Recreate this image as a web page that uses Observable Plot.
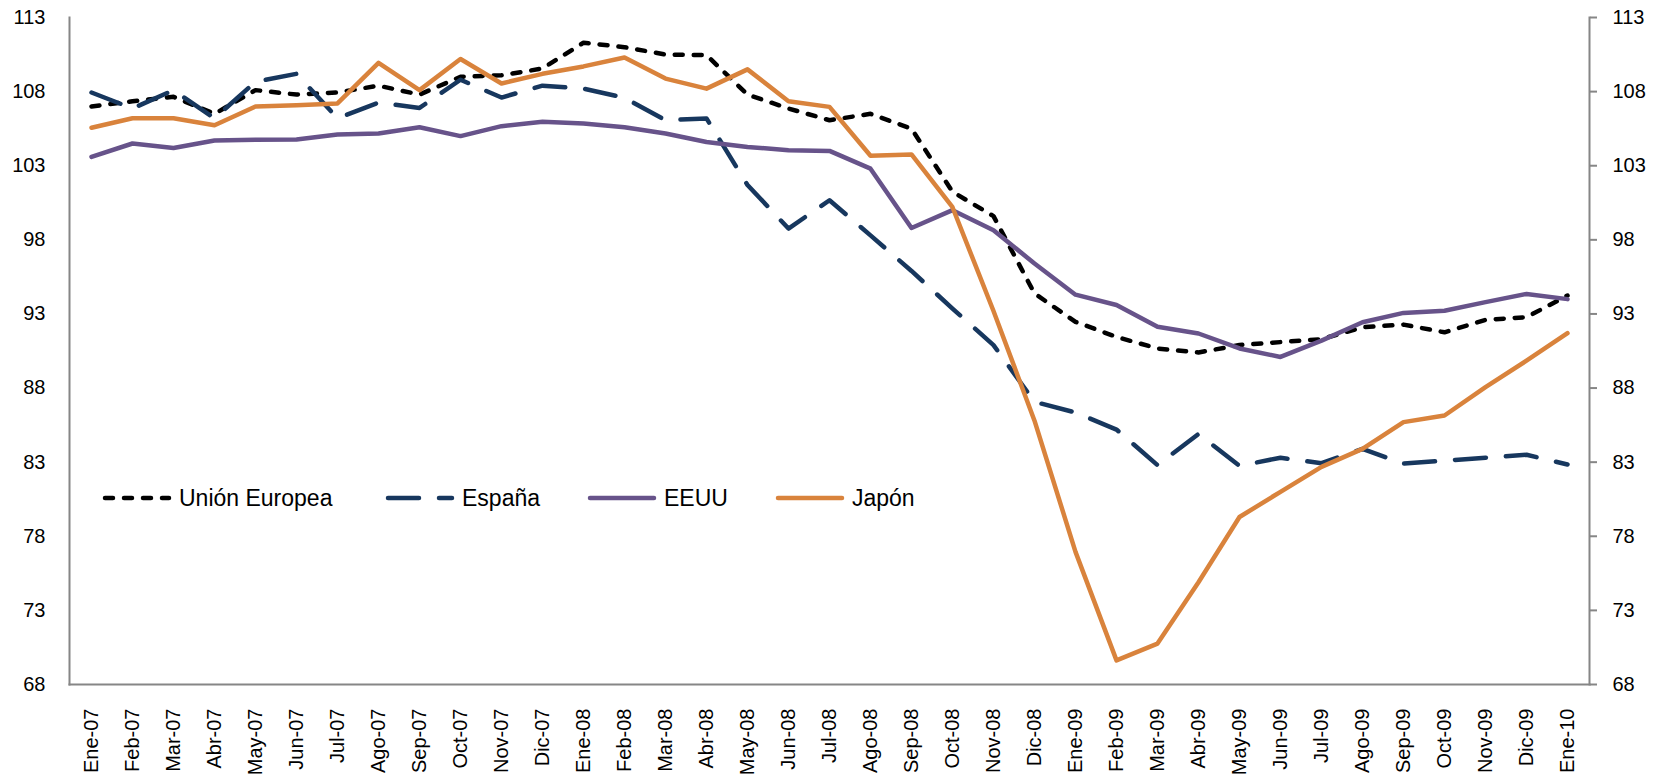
<!DOCTYPE html>
<html>
<head>
<meta charset="utf-8">
<script src="https://cdn.jsdelivr.net/npm/d3@7"></script>
<script src="https://cdn.jsdelivr.net/npm/@observablehq/plot@0.6"></script>
<style>
  html, body { margin: 0; padding: 0; background: #ffffff; }
  #chart { position: relative; width: 1663px; height: 778px; }
</style>
</head>
<body>
<div id="chart"></div>
<script>
const months = ["Ene-07","Feb-07","Mar-07","Abr-07","May-07","Jun-07","Jul-07","Ago-07","Sep-07","Oct-07","Nov-07","Dic-07",
  "Ene-08","Feb-08","Mar-08","Abr-08","May-08","Jun-08","Jul-08","Ago-08","Sep-08","Oct-08","Nov-08","Dic-08",
  "Ene-09","Feb-09","Mar-09","Abr-09","May-09","Jun-09","Jul-09","Ago-09","Sep-09","Oct-09","Nov-09","Dic-09","Ene-10"];

const unionEuropea = [107.0,107.35,107.65,106.5,108.1,107.8,107.94,108.4,107.8,109.0,109.1,109.56,
  111.3,111.0,110.5,110.46,107.8,106.86,106.07,106.5,105.5,101.24,99.6,94.38,
  92.47,91.45,90.67,90.4,90.9,91.1,91.3,92.1,92.28,91.76,92.6,92.78,94.24];

const espana = [107.94,106.86,108.1,106.2,108.66,109.2,106.2,107.26,106.9,108.8,107.6,108.4,
  108.2,107.58,106.07,106.19,101.7,98.76,100.67,98.3,95.9,93.36,90.9,87.07,
  86.35,85.2,82.8,84.9,82.75,83.3,82.93,83.9,82.9,83.1,83.3,83.5,82.84];

const eeuu = [103.6,104.5,104.2,104.7,104.75,104.77,105.1,105.17,105.6,105.0,105.67,105.96,
  105.85,105.6,105.17,104.6,104.27,104.05,104.0,102.8,98.8,100.0,98.65,96.4,
  94.3,93.6,92.13,91.68,90.67,90.1,91.2,92.44,93.07,93.22,93.8,94.35,94.0];

const japon = [105.56,106.2,106.2,105.73,107.0,107.08,107.2,109.94,108.1,110.2,108.55,109.2,
  109.7,110.3,108.88,108.2,109.5,107.35,106.97,103.67,103.76,100.2,93.2,85.8,
  76.95,69.63,70.76,74.9,79.3,81.0,82.68,83.9,85.7,86.15,88.06,89.85,91.7];

const yTicks = [68,73,78,83,88,93,98,103,108,113];
const seriesNames = ["Unión Europea","España","EEUU","Japón"];
const seriesColors = ["#000000","#17375E","#67538A","#D9833C"];
const seriesDash = ["8,11","31,20",null,null];
const seriesValues = [unionEuropea, espana, eeuu, japon];

const rows = [];
seriesValues.forEach((vals, s) => vals.forEach((v, i) => rows.push({serie: seriesNames[s], mes: months[i], valor: v})));

const axisColor = "#868686";
const W = 1663, H = 778;

const lineMarks = seriesNames.map((name, s) => Plot.line(rows.filter(d => d.serie === name), {
  x: "mes", y: "valor",
  stroke: seriesColors[s],
  strokeWidth: 4.5,
  strokeDasharray: seriesDash[s] || undefined,
  strokeLinecap: "round",
  strokeLinejoin: "round"
}));

const plot = Plot.plot({
  width: W,
  height: H,
  marginTop: 17,
  marginBottom: 94,
  marginLeft: 69,
  marginRight: 74,
  style: {fontFamily: "'Liberation Sans', Arial, sans-serif", background: "#ffffff", color: "#000000"},
  x: {type: "point", domain: months, padding: 0.5, label: null},
  y: {domain: [68, 113], label: null},
  marks: [
    Plot.frame({anchor: "left", stroke: axisColor, strokeWidth: 2}),
    Plot.frame({anchor: "right", stroke: axisColor, strokeWidth: 2}),
    Plot.frame({anchor: "bottom", stroke: axisColor, strokeWidth: 2}),
    Plot.axisY(yTicks, {anchor: "left", tickSize: 0, tickPadding: 24, fontSize: 20, fill: "#000", label: null}),
    Plot.axisY(yTicks, {anchor: "right", tickSize: 7, tickPadding: 16, fontSize: 20, stroke: axisColor, strokeWidth: 2, fill: "#000", label: null}),
    Plot.axisX(months, {tickSize: 0, tickRotate: -90, tickPadding: 24, fontSize: 20, fill: "#000", label: null}),
    ...lineMarks
  ]
});

// Legend inside the plot area
const svg = d3.select(plot);
const legendY = 498;
const legendX = [103, 386, 588, 776];
const g = svg.append("g").attr("class", "legend").attr("text-anchor", "start");
seriesNames.forEach((name, s) => {
  const x0 = legendX[s];
  const line = g.append("line")
    .attr("x1", x0 + 2).attr("x2", x0 + 66)
    .attr("y1", legendY).attr("y2", legendY)
    .attr("stroke", seriesColors[s])
    .attr("stroke-width", 4.5)
    .attr("stroke-linecap", "round");
  if (seriesDash[s]) line.attr("stroke-dasharray", seriesDash[s]);
  g.append("text")
    .attr("x", x0 + 76).attr("y", legendY)
    .attr("dy", "0.35em")
    .attr("text-anchor", "start")
    .attr("font-size", 23)
    .attr("fill", "#000")
    .text(name);
});

document.getElementById("chart").appendChild(plot);
</script>
</body>
</html>
